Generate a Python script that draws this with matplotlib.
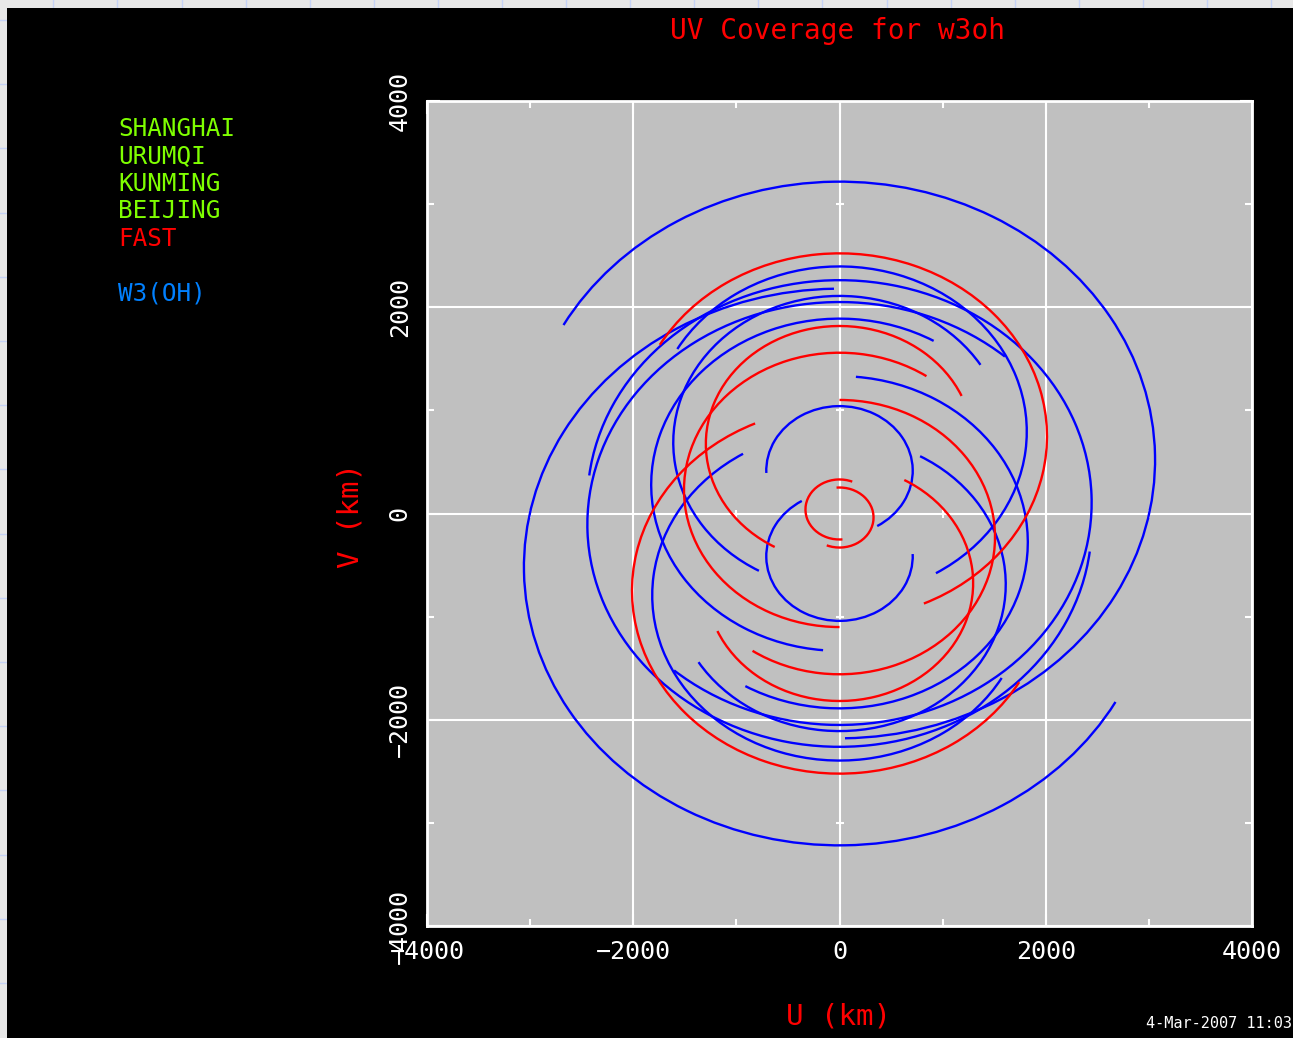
import numpy as np
import matplotlib.pyplot as plt
from matplotlib.patches import Arc, Rectangle
from matplotlib.lines import Line2D

# uv tracks of the five-station array on W3(OH)
# every baseline is an elliptical arc centred on (0, v_offset) plus its
# conjugate arc mirrored through the origin
baselines = ['SH-UR', 'SH-KM', 'SH-BJ', 'UR-KM', 'UR-BJ', 'KM-BJ',
             'SH-FAST', 'UR-FAST', 'BJ-FAST', 'KM-FAST']
track_color = ['blue', 'blue', 'blue', 'blue', 'blue', 'blue',
               'red', 'red', 'red', 'red']
semi_u = [3060, 1826, 710, 1816, 2445, 1612, 1508, 2012, 1296, 330]      # km
v_offset = [519, -279, 415, -794, -106, 688, -229, -748, -675, 39]       # km
# start / end of each track in degrees round the ellipse (0 = top, clockwise)
track_start = [-61, 5, -92, 120, 97, -151, 0, 120, 29, -185]
track_end = [179, 210, 149, 329, 401, 58, 214, 336, 246, 22]
ellipse_ratio = 0.882   # v/u axis ratio, sin(dec)

stations = ['SHANGHAI', 'URUMQI', 'KUNMING', 'BEIJING', 'FAST']
station_color = ['#7fff00', '#7fff00', '#7fff00', '#7fff00', '#ff0000']
source = 'W3(OH)'

major_ticks = [-4000, -2000, 0, 2000, 4000]
minor_ticks = [-3000, -1000, 1000, 3000]

W, H = 1293, 1038
plt.rcParams['font.family'] = 'DejaVu Sans Mono'

fig = plt.figure(figsize=(W / 100, H / 100), dpi=100)
fig.patch.set_facecolor('#e8e8e8')

# window background showing round the plot
for x in np.arange(53.3, W, 64.1):
    fig.add_artist(Line2D([x / W, x / W], [0, 1], color='#c6d3f6', lw=1, zorder=-3))
for y in np.arange(20, H, 64.2):
    fig.add_artist(Line2D([0, 1], [1 - y / H, 1 - y / H], color='#c6d3f6', lw=1, zorder=-3))
fig.add_artist(Rectangle((7 / W, 0), 1 - 7 / W, (H - 8) / H, transform=fig.transFigure,
                         facecolor='black', edgecolor='none', zorder=-2))

ax = fig.add_axes([427 / W, 112 / H, 825 / W, 825 / H])
ax.set_facecolor('#c0c0c0')
ax.set_xlim(-4000, 4000)
ax.set_ylim(-4000, 4000)


def track(cy, a, t0, t1, color):
    b = a * ellipse_ratio

    def polar(t):
        p = np.radians(90 - t)
        return np.degrees(np.arctan2(b * np.sin(p), a * np.cos(p)))
    return Arc((0, cy), 2 * a, 2 * b, theta1=polar(t1), theta2=polar(t0),
               color=color, lw=1.7, zorder=3)


for i in range(len(baselines)):
    a = semi_u[i]
    ax.add_patch(track(v_offset[i], a, track_start[i], track_end[i], track_color[i]))
    ax.add_patch(track(-v_offset[i], a, track_start[i] + 180, track_end[i] + 180,
                       track_color[i]))

ax.set_xticks(major_ticks)
ax.set_yticks(major_ticks)
ax.set_xticks(minor_ticks, minor=True)
ax.set_yticks(minor_ticks, minor=True)
ax.tick_params(which='both', direction='in', top=True, right=True,
               color='white', labelcolor='white', labelsize=18, width=1.5)
ax.tick_params(which='major', length=9)
ax.tick_params(which='minor', length=5)
ax.tick_params(axis='x', pad=10)
ax.tick_params(axis='y', pad=11)
for lab in ax.get_yticklabels():
    lab.set_rotation(90)
    lab.set_va('center')
ax.grid(True, which='major', color='white', lw=1.5, zorder=1)
ax.set_axisbelow(True)
for s in ax.spines.values():
    s.set_color('white')
    s.set_linewidth(2)

# small ticks along the zero axes
ax.plot(minor_ticks, [0] * len(minor_ticks), ls='none', marker='|', ms=6,
        mew=1.5, color='white', zorder=2)
ax.plot([0] * len(minor_ticks), minor_ticks, ls='none', marker='_', ms=6,
        mew=1.5, color='white', zorder=2)

fig.text(838 / W, 1 - 31 / H, 'UV Coverage for w3oh', color='red', fontsize=20,
         ha='center', va='center')
fig.text(838 / W, 1 - 1016 / H, 'U (km)', color='red', fontsize=21,
         ha='center', va='center')
fig.text(350 / W, 1 - 515 / H, 'V (km)', color='red', fontsize=21,
         ha='center', va='center', rotation=90)
fig.text(1146 / W, 1 - 1024 / H, '4-Mar-2007 11:03', color='white', fontsize=11,
         ha='left', va='center')

for k, name in enumerate(stations):
    fig.text(118 / W, 1 - (129 + 27.5 * k) / H, name, color=station_color[k],
             fontsize=17.5, ha='left', va='center')
fig.text(118 / W, 1 - 294 / H, source, color='#0080ff', fontsize=17.5,
         ha='left', va='center')

fig.savefig('out.png', dpi=100, facecolor=fig.get_facecolor())
